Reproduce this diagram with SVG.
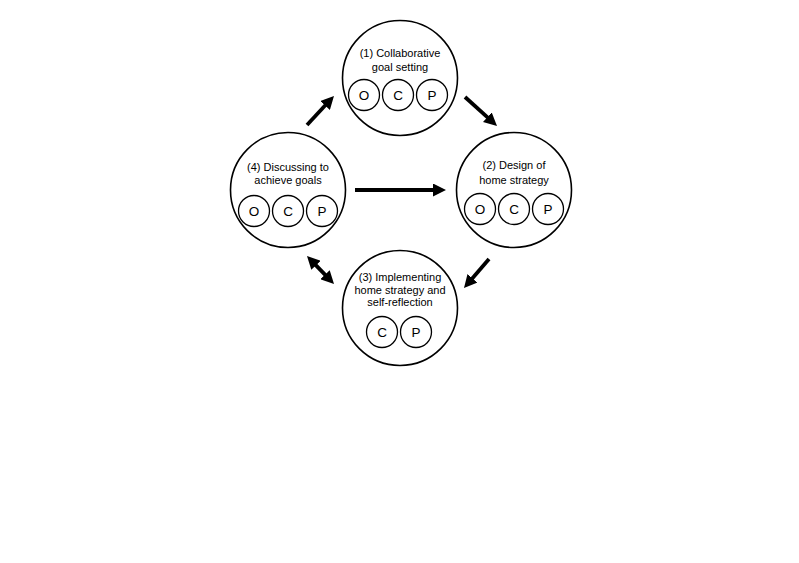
<svg xmlns="http://www.w3.org/2000/svg" width="799" height="563" viewBox="0 0 799 563">
<style>
.big{fill:#fff;stroke:#000;stroke-width:1.6}
.sm{fill:#fff;stroke:#000;stroke-width:1.3}
.t{font-family:"Liberation Sans",Arial,sans-serif;font-size:11px;text-anchor:middle;fill:#000}
.l{font-family:"Liberation Sans",Arial,sans-serif;font-size:13.5px;text-anchor:middle;fill:#000}
.a{stroke:#000;stroke-width:3.8;fill:none}
</style>
<defs>
<marker id="ah" viewBox="0 0 13 13" markerWidth="13" markerHeight="13" markerUnits="userSpaceOnUse" refX="1" refY="6.5" orient="auto-start-reverse">
<path d="M0,0 L13,6.5 L0,13 z" fill="#000"/>
</marker>
</defs>
<rect width="799" height="563" fill="#fff"/>
<g id="connectors">
<line class="a" x1="307" y1="125" x2="325.8" y2="104.8" marker-end="url(#ah)"/>
<line class="a" x1="465" y1="97" x2="488.1" y2="117.9" marker-end="url(#ah)"/>
<line class="a" x1="489" y1="259" x2="471.8" y2="279" marker-end="url(#ah)"/>
<line class="a" x1="315.3" y1="264.6" x2="325.7" y2="275.4" marker-start="url(#ah)" marker-end="url(#ah)"/>
<line class="a" x1="355" y1="190" x2="434" y2="190" marker-end="url(#ah)"/>
</g>
<g id="node1">
<circle class="big" cx="400" cy="78" r="57.5"/>
<text class="t" x="400" y="57">(1) Collaborative</text>
<text class="t" x="400" y="71">goal setting</text>
<circle class="sm" cx="364" cy="95" r="15.5"/><text class="l" x="364" y="100">O</text>
<circle class="sm" cx="398" cy="95" r="15.5"/><text class="l" x="398" y="100">C</text>
<circle class="sm" cx="432" cy="95" r="15.5"/><text class="l" x="432" y="100">P</text>
</g>
<g id="node2">
<circle class="big" cx="514" cy="190" r="57.5"/>
<text class="t" x="514" y="169">(2) Design of</text>
<text class="t" x="514" y="184">home strategy</text>
<circle class="sm" cx="480" cy="209" r="15.5"/><text class="l" x="480" y="214">O</text>
<circle class="sm" cx="514" cy="209" r="15.5"/><text class="l" x="514" y="214">C</text>
<circle class="sm" cx="548" cy="209" r="15.5"/><text class="l" x="548" y="214">P</text>
</g>
<g id="node3">
<circle class="big" cx="400" cy="308" r="57.5"/>
<text class="t" x="400" y="281">(3) Implementing</text>
<text class="t" x="400" y="293.5">home strategy and</text>
<text class="t" x="400" y="306">self-reflection</text>
<circle class="sm" cx="382" cy="332" r="15.5"/><text class="l" x="382" y="337">C</text>
<circle class="sm" cx="416" cy="332" r="15.5"/><text class="l" x="416" y="337">P</text>
</g>
<g id="node4">
<circle class="big" cx="288" cy="190" r="57.5"/>
<text class="t" x="288" y="171">(4) Discussing to</text>
<text class="t" x="288" y="184">achieve goals</text>
<circle class="sm" cx="254" cy="211" r="15.5"/><text class="l" x="254" y="216">O</text>
<circle class="sm" cx="288" cy="211" r="15.5"/><text class="l" x="288" y="216">C</text>
<circle class="sm" cx="322" cy="211" r="15.5"/><text class="l" x="322" y="216">P</text>
</g>
</svg>
